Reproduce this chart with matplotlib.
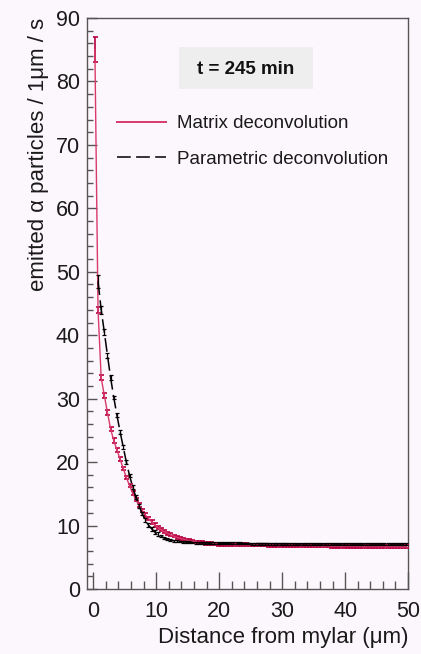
import matplotlib
matplotlib.use("Agg")
import matplotlib.pyplot as plt
from matplotlib.lines import Line2D
from matplotlib.patches import Rectangle
from matplotlib.ticker import MultipleLocator

plt.rcParams['font.family'] = ['Liberation Sans', 'DejaVu Sans']

# Matrix deconvolution: 0.5 um bins
matrix_x = [0.25 + 0.5 * i for i in range(100)]
matrix_y = [85.0, 44.0, 33.3, 30.5, 27.8, 25.2, 23.4, 21.9, 20.5, 19.0,
            17.6, 16.3, 15.1, 14.1, 13.2, 12.4, 11.7, 11.1, 10.6, 10.1,
            9.70, 9.35, 9.05, 8.80, 8.55, 8.35, 8.15, 8.00, 7.85, 7.72,
            7.60, 7.50, 7.42, 7.35, 7.28, 7.22, 7.17, 7.12, 7.08, 7.05,
            7.03, 7.01, 7.00, 6.99, 6.99, 6.98, 6.97, 6.97, 6.96, 6.95,
            6.95, 6.94, 6.93, 6.93, 6.92, 6.91, 6.91, 6.90, 6.89, 6.88,
            6.88, 6.87, 6.86, 6.85, 6.85, 6.84, 6.83, 6.82, 6.82, 6.81,
            6.80, 6.79, 6.79, 6.78, 6.77, 6.76, 6.76, 6.75, 6.74, 6.73,
            6.73, 6.72, 6.71, 6.71, 6.70, 6.70, 6.69, 6.69, 6.68, 6.68,
            6.67, 6.67, 6.66, 6.66, 6.66, 6.65, 6.65, 6.65, 6.64, 6.64]
matrix_err = [2.0, 0.45, 0.40, 0.38, 0.36, 0.34, 0.33, 0.32, 0.31, 0.30] + [0.28] * 10 + [0.22] * 80

# Parametric deconvolution
param_x = [0.75 + 0.5 * i for i in range(99)]
param_y = [48.5, 44.0, 40.5, 36.8, 33.3, 30.2, 27.4, 24.8, 22.4, 20.0,
           17.9, 16.1, 14.5, 13.1, 11.9, 10.9, 10.1, 9.50, 9.00, 8.62,
           8.30, 8.05, 7.86, 7.72, 7.62, 7.54, 7.48, 7.43, 7.39, 7.36,
           7.33, 7.31, 7.29, 7.27, 7.26, 7.24, 7.23, 7.22, 7.21, 7.20,
           7.20, 7.19, 7.19, 7.18, 7.18, 7.18, 7.17, 7.17, 7.17, 7.16,
           7.16, 7.16, 7.16, 7.15, 7.15, 7.15, 7.15, 7.14, 7.14, 7.14,
           7.14, 7.14, 7.13, 7.13, 7.13, 7.13, 7.13, 7.12, 7.12, 7.12,
           7.12, 7.12, 7.12, 7.11, 7.11, 7.11, 7.11, 7.11, 7.11, 7.11,
           7.10, 7.10, 7.10, 7.10, 7.10, 7.10, 7.10, 7.10, 7.10, 7.10,
           7.10, 7.10, 7.10, 7.10, 7.10, 7.10, 7.10, 7.10, 7.10]
param_err = [1.0, 0.6, 0.5, 0.45, 0.4] + [0.3] * 15 + [0.15] * 79

x_label = "Distance from mylar (μm)"
y_label = "emitted α particles / 1μm / s"
time_label = "t = 245 min"
series_labels = ["Matrix deconvolution", "Parametric deconvolution"]

BG = '#fcf7fc'
RED_LINE = '#d83a6c'
RED_BAR = '#b8003e'
AX_COL = '#555555'
TXT = '#1a1a1a'

fig = plt.figure(figsize=(4.21, 6.54), dpi=100, facecolor=BG)
ax = fig.add_axes([0.2067, 0.0994, 0.7625, 0.873], facecolor=BG)

ax.errorbar(matrix_x, matrix_y, yerr=matrix_err, color=RED_LINE, lw=1.0,
            ecolor=RED_BAR, elinewidth=1.2, capsize=1.8, capthick=1.2, zorder=3)
ax.errorbar(param_x, param_y, yerr=param_err, color='black', lw=1.1,
            dashes=(9, 3.5), ecolor='black', elinewidth=0.9, capsize=1.5,
            capthick=0.9, zorder=4)

ax.set_xlim(-1, 50)
ax.set_ylim(0, 90)
ax.xaxis.set_major_locator(MultipleLocator(10))
ax.xaxis.set_minor_locator(MultipleLocator(2))
ax.yaxis.set_major_locator(MultipleLocator(10))
ax.yaxis.set_minor_locator(MultipleLocator(2))

for s in ax.spines.values():
    s.set_color(AX_COL)
    s.set_linewidth(1.0)

ax.tick_params(axis='x', which='major', direction='in', length=12, width=1.0,
               color=AX_COL, labelsize=15.5, pad=9, labelcolor=TXT)
ax.tick_params(axis='x', which='minor', direction='in', length=5.8, width=1.0,
               color=AX_COL)
ax.tick_params(axis='y', which='major', direction='in', length=7.2, width=1.0,
               color=AX_COL, labelsize=15.5, pad=5, labelcolor=TXT)
ax.tick_params(axis='y', which='minor', direction='in', length=4.3, width=1.0,
               color=AX_COL)

ax.set_xlabel(x_label, fontsize=16, loc='right', labelpad=3, color=TXT)
ax.set_ylabel(y_label, fontsize=16, loc='top', labelpad=5, color=TXT)

# time stamp box
fig.patches.append(Rectangle((179 / 421, 1 - 89 / 654), 134 / 421, 42 / 654,
                             transform=fig.transFigure, fc='#efeeef', ec='none'))
fig.text(246 / 421, 1 - 69 / 654, time_label, ha='center', va='center',
         fontsize=13.5, weight='bold', color='#111111')

handles = [Line2D([], [], color=RED_LINE, lw=1.4),
           Line2D([], [], color='black', lw=1.1, dashes=(9, 3.5))]
fig.legend(handles, series_labels, loc='upper left',
           bbox_to_anchor=(108 / 421, 1 - 106 / 654), frameon=False,
           fontsize=13.5, handlelength=2.6, handletextpad=0.6,
           labelspacing=0.98, borderpad=0, labelcolor=TXT)

fig.savefig('out.png', dpi=100, facecolor=BG)
